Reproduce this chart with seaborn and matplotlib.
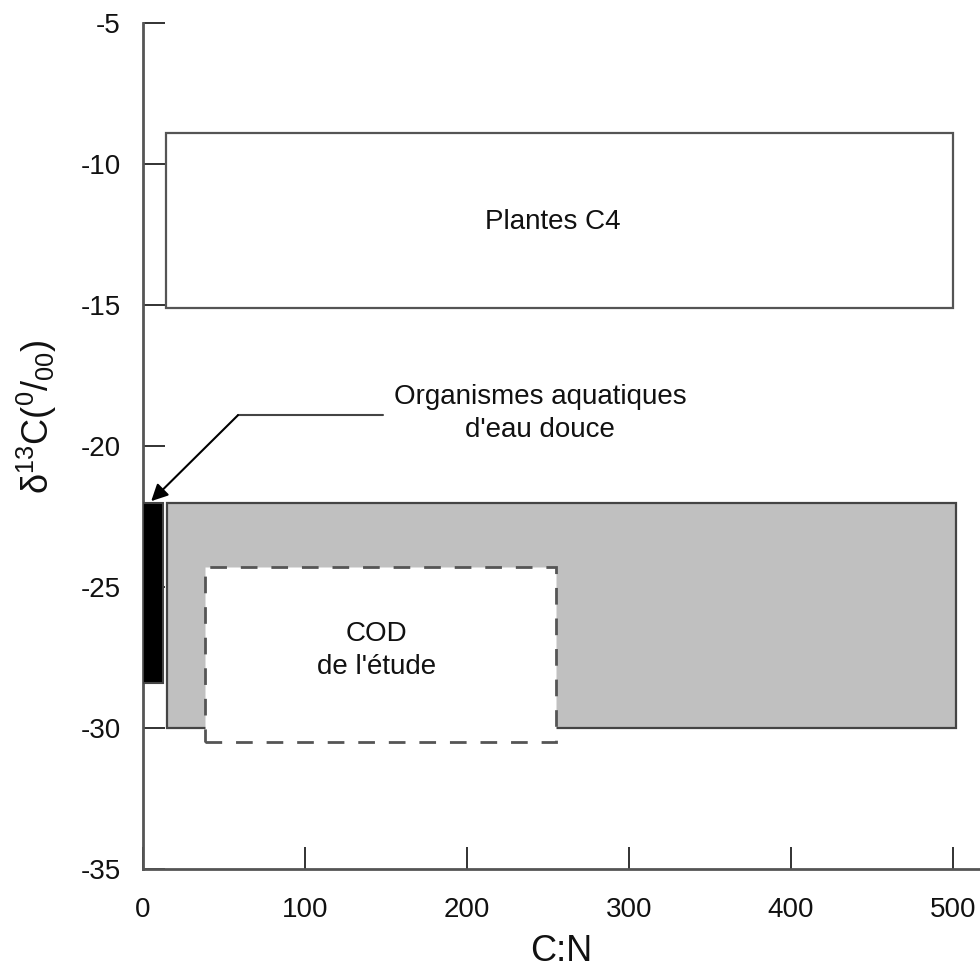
import numpy as np
import pandas as pd
import matplotlib
matplotlib.use("Agg")
import matplotlib.pyplot as plt
from matplotlib.patches import Rectangle
import seaborn as sns

# boxes: C:N range and d13C range
box_names = ["Plantes C4", "Organismes aquatiques", "Plantes C3", "COD de l'étude"]
cn_min = [14, 0, 15, 38]
cn_max = [500, 12, 502, 255]
d13c_top = [-8.9, -22.0, -22.0, -24.3]
d13c_bot = [-15.1, -28.4, -30.0, -30.5]

x_ticks = [0, 100, 200, 300, 400, 500]
y_ticks = [-35, -30, -25, -20, -15, -10, -5]

boxes = pd.DataFrame({"name": box_names, "x0": cn_min, "x1": cn_max,
                      "y0": d13c_bot, "y1": d13c_top})

sns.set_style("ticks")
plt.rcParams['font.family'] = ['Liberation Sans', 'DejaVu Sans']

fig = plt.figure(figsize=(9.8, 9.71), dpi=100)
ax = fig.add_axes([0.146, 0.105, 0.854, 0.871])

styles = {
    "Plantes C4": dict(facecolor="white", edgecolor="#555555", lw=1.6, ls="-"),
    "Organismes aquatiques": dict(facecolor="black", edgecolor="#444444", lw=1.5, ls="-"),
    "Plantes C3": dict(facecolor="#c0c0c0", edgecolor="#444444", lw=1.6, ls="-"),
    "COD de l'étude": dict(facecolor="white", edgecolor="#555555", lw=2.0, ls=(0, (6, 5))),
}
for i, r in boxes.iterrows():
    st = styles[r["name"]]
    ax.add_patch(Rectangle((r["x0"], r["y0"]), r["x1"] - r["x0"], r["y1"] - r["y0"],
                           facecolor=st["facecolor"], edgecolor=st["edgecolor"],
                           linewidth=st["lw"], linestyle=st["ls"], zorder=2 + i))

fs = 20
txt = "#111111"
ax.text(253, -12.05, "Plantes C4", ha="center", va="center", fontsize=fs, color=txt)
ax.text(373, -25.85, "Plantes C3", ha="center", va="center", fontsize=fs, color=txt)
ax.text(144, -27.25, "COD\nde l'étude", ha="center", va="center", fontsize=fs,
        color=txt, linespacing=1.35, zorder=10)
ax.text(245, -18.85, "Organismes aquatiques\nd'eau douce", ha="center", va="center",
        fontsize=fs, color=txt, linespacing=1.35)

# leader line with arrow
ax.plot([148, 58.6], [-18.9, -18.9], color="#444444", lw=1.5, zorder=6)
ax.annotate("", xy=(5, -21.95), xytext=(58.6, -18.9),
            arrowprops=dict(arrowstyle="-|>,head_length=1.0,head_width=0.5",
                            color="black", lw=1.5, shrinkA=0, shrinkB=0), zorder=7)

ax.set_xlim(0, 516.7)
ax.set_ylim(-35, -5)
ax.set_xticks(x_ticks)
ax.set_yticks(y_ticks)
ax.set_xticklabels([str(v) for v in x_ticks])
ax.set_yticklabels([str(v) for v in y_ticks])
ax.tick_params(direction="in", length=16, width=1.3, colors="#222222",
               labelsize=fs, labelcolor=txt)
ax.tick_params(axis="x", pad=20)
ax.tick_params(axis="y", pad=16)

sns.despine(ax=ax)
for s in ["left", "bottom"]:
    ax.spines[s].set_color("#555555")
    ax.spines[s].set_linewidth(2)

ax.set_xlabel("C:N", fontsize=26, color=txt, labelpad=8)
ax.set_ylabel(r"$\mathregular{\delta^{13}C(^{0}/_{00})}$", fontsize=26, color=txt)
ax.yaxis.set_label_coords(-0.101, 0.535)

fig.savefig("out.png", dpi=100)
